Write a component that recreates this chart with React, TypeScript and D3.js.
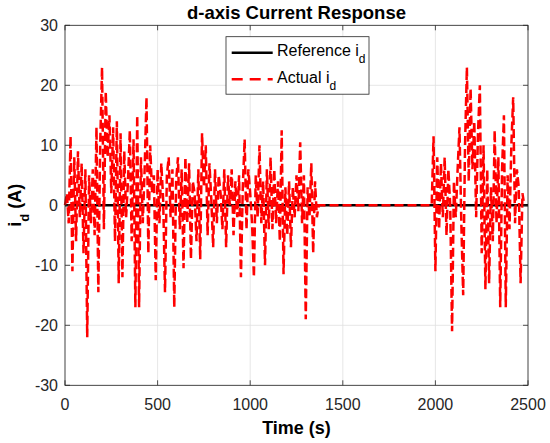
import { useEffect, useRef } from "react";
import * as d3 from "d3";

// tiempo (s) de la corriente medida
const actualTime = [
  0, 10, 20, 30, 40, 50, 60, 70, 80, 90, 100, 110, 120, 130, 140, 150, 160, 170, 180, 190,
  200, 210, 220, 230, 240, 250, 260, 270, 280, 290, 300, 310, 320, 330, 340, 350, 360, 370, 380, 390,
  400, 410, 420, 430, 440, 450, 460, 470, 480, 490, 500, 510, 520, 530, 540, 550, 560, 570, 580, 590,
  600, 610, 620, 630, 640, 650, 660, 670, 680, 690, 700, 710, 720, 730, 740, 750, 760, 770, 780, 790,
  800, 810, 820, 830, 840, 850, 860, 870, 880, 890, 900, 910, 920, 930, 940, 950, 960, 970, 980, 990,
  1000, 1010, 1020, 1030, 1040, 1050, 1060, 1070, 1080, 1090, 1100, 1110, 1120, 1130, 1140, 1150, 1160, 1170, 1180, 1190,
  1200, 1210, 1220, 1230, 1240, 1250, 1260, 1270, 1280, 1290, 1300, 1310, 1320, 1330, 1340, 1350, 1360, 1370,
  1980, 1990, 2000, 2010, 2020, 2030, 2040, 2050, 2060, 2070, 2080, 2090, 2100, 2110, 2120, 2130, 2140, 2150, 2160, 2170,
  2180, 2190, 2200, 2210, 2220, 2230, 2240, 2250, 2260, 2270, 2280, 2290, 2300, 2310, 2320, 2330, 2340, 2350, 2360, 2370,
  2380, 2390, 2400, 2410, 2420, 2430, 2440, 2450, 2460, 2470, 2480,
];

// i_d medida (A)
const actualId = [
  0, 2, -3, 11.5, -11, 8, -6, 9, -2, 7, -8, 6, -22, 5, -3, 6, -5, 13, -14.5, 10,
  23, -4, 19, 8, 15, 2, 13, -6, 14, -13, 12, -12, 9, -2, 4, 12.5, -6, 11, -17, 15,
  -17, 8, -3, 6, 18, -8, 10, 2, 5, -12.5, 6, -3, 7, 1, -14.5, 5, 8, -2, 6, -17,
  4, 8, -4, 6, -10.5, 8, -3, 7, -9, 4, 2, -6, 6, -9, 12, 3, 10, -5, 7, 1,
  -7, 6, -3, 5, 2, -4, 6, -7, 5, 0, 6, -5, 4, -2, 5, -12, 3, 11, -4, 6,
  2, -3, -12, 5, -2, 10, -3, 4, -10, 6, -4, 8, -4, 6, -3, 4, -6, 12.5, -11.5, 3,
  -5, 4, -7, 3, -2, 5, -1, 10.5, -3, 5, -19, 3, -2, 7, -8, 4, -2, 0,
  0, 11.5, -11, 8, -4, 7, -2, 8, -5, 6, 0, -21, 4, -2, 6, 13, -3, -15, 10, 23,
  4, 19.5, 6, 14, -2, 12, 20, -8, 10, -14, 6, -13, 3, -6, 12.5, -3, 8, -17, 6, 15,
  -17, 5, -4, 10, 18, -3, 6, 3, -13, 2, 0,
];

const refTime = [0, 2500];
const refId = [0, 0];

const xTicks = [0, 500, 1000, 1500, 2000, 2500];
const yTicks = [-30, -20, -10, 0, 10, 20, 30];

export default function App() {
  const svgRef = useRef<SVGSVGElement | null>(null);

  useEffect(() => {
    if (!svgRef.current) return;
    const svg = d3.select(svgRef.current);
    svg.selectAll("*").remove();

    const left = 65, right = 528, top = 25.3, bottom = 385.3;
    const font = "'Liberation Sans', Arial, sans-serif";
    const axisColor = "#262626";

    const x = d3.scaleLinear().domain([0, 2500]).range([left, right]);
    const y = d3.scaleLinear().domain([-30, 30]).range([bottom, top]);

    svg.append("rect").attr("width", 550).attr("height", 443).attr("fill", "#fff");

    // grilla
    const grid = svg.append("g").attr("stroke", "#dfdfdf").attr("stroke-width", 0.8);
    xTicks.forEach((t) => {
      grid.append("line").attr("x1", x(t)).attr("x2", x(t)).attr("y1", top).attr("y2", bottom);
    });
    yTicks.forEach((t) => {
      grid.append("line").attr("x1", left).attr("x2", right).attr("y1", y(t)).attr("y2", y(t));
    });

    // curvas
    const line = d3
      .line<number>()
      .x((_, i) => x(actualTime[i]))
      .y((d) => y(d));

    const refLine = d3
      .line<number>()
      .x((_, i) => x(refTime[i]))
      .y((d) => y(d));

    svg.append("path")
      .attr("d", refLine(refId))
      .attr("fill", "none")
      .attr("stroke", "#000")
      .attr("stroke-width", 2.5);

    svg.append("path")
      .attr("d", line(actualId))
      .attr("fill", "none")
      .attr("stroke", "#ff0000")
      .attr("stroke-width", 2.5)
      .attr("stroke-dasharray", "9,4");

    // caja y ticks
    svg.append("rect")
      .attr("x", left).attr("y", top)
      .attr("width", right - left).attr("height", bottom - top)
      .attr("fill", "none").attr("stroke", axisColor).attr("stroke-width", 0.8);

    const ticks = svg.append("g").attr("stroke", axisColor).attr("stroke-width", 0.8);
    xTicks.forEach((t) => {
      ticks.append("line").attr("x1", x(t)).attr("x2", x(t)).attr("y1", bottom).attr("y2", bottom - 5);
      ticks.append("line").attr("x1", x(t)).attr("x2", x(t)).attr("y1", top).attr("y2", top + 5);
    });
    yTicks.forEach((t) => {
      ticks.append("line").attr("x1", left).attr("x2", left + 5).attr("y1", y(t)).attr("y2", y(t));
      ticks.append("line").attr("x1", right).attr("x2", right - 5).attr("y1", y(t)).attr("y2", y(t));
    });

    xTicks.forEach((t) => {
      svg.append("text")
        .attr("x", x(t)).attr("y", bottom + 25)
        .attr("text-anchor", "middle")
        .style("font-family", font).style("font-size", "16px").style("fill", axisColor)
        .text(t);
    });
    yTicks.forEach((t) => {
      svg.append("text")
        .attr("x", left - 7).attr("y", y(t)).attr("dy", "0.35em")
        .attr("text-anchor", "end")
        .style("font-family", font).style("font-size", "16px").style("fill", axisColor)
        .text(t);
    });

    // títulos
    svg.append("text")
      .attr("x", (left + right) / 2).attr("y", 19)
      .attr("text-anchor", "middle")
      .style("font-family", font).style("font-size", "18.5px").style("font-weight", "bold")
      .text("d-axis Current Response");

    svg.append("text")
      .attr("x", (left + right) / 2).attr("y", 434)
      .attr("text-anchor", "middle")
      .style("font-family", font).style("font-size", "18px").style("font-weight", "bold")
      .text("Time (s)");

    const yl = svg.append("text")
      .attr("transform", `translate(21, ${(top + bottom) / 2}) rotate(-90)`)
      .attr("text-anchor", "middle")
      .style("font-family", font).style("font-size", "18px").style("font-weight", "bold");
    yl.append("tspan").text("i");
    yl.append("tspan").attr("baseline-shift", "sub").style("font-size", "13px").text("d");
    yl.append("tspan").text(" (A)");

    // leyenda
    const lg = svg.append("g");
    lg.append("rect")
      .attr("x", 226).attr("y", 36.7).attr("width", 143).attr("height", 57.5)
      .attr("fill", "#fff").attr("stroke", axisColor).attr("stroke-width", 0.8);
    lg.append("line")
      .attr("x1", 231.7).attr("x2", 272.7).attr("y1", 52.7).attr("y2", 52.7)
      .attr("stroke", "#000").attr("stroke-width", 2.5);
    lg.append("line")
      .attr("x1", 231.7).attr("x2", 272.7).attr("y1", 79.3).attr("y2", 79.3)
      .attr("stroke", "#ff0000").attr("stroke-width", 2.5).attr("stroke-dasharray", "11,7");

    const labels = ["Reference i", "Actual i"];
    labels.forEach((l, i) => {
      const t = lg.append("text")
        .attr("x", 277).attr("y", [52.7, 79.3][i]).attr("dy", "0.2em")
        .style("font-family", font).style("font-size", "16px").style("fill", "#000");
      t.append("tspan").text(l);
      t.append("tspan").attr("baseline-shift", "sub").style("font-size", "12px").text("d");
    });
  }, []);

  return (
    <svg
      ref={svgRef}
      width={550}
      height={443}
      style={{ position: "absolute", left: 0, top: 0, background: "#fff" }}
    />
  );
}
